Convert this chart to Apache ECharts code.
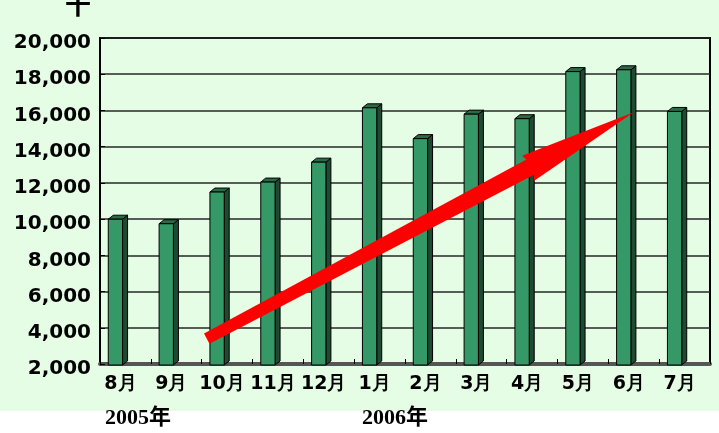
<!DOCTYPE html>
<html>
<head>
<meta charset="utf-8">
<script src="https://cdn.jsdelivr.net/npm/echarts@6/dist/echarts.min.js"></script>
<style>
  html, body { margin: 0; padding: 0; }
  body { width: 719px; height: 433px; overflow: hidden;
         background: linear-gradient(to bottom, #e5fde5 0px, #e5fde5 411px, #ffffff 411px, #ffffff 433px); }
  #chart { width: 719px; height: 433px; }
</style>
</head>
<body>
<div id="chart"></div>
<script>
// ---- data ----
const categories = ['8月', '9月', '10月', '11月', '12月', '1月', '2月', '3月', '4月', '5月', '6月', '7月'];
const values = [10050, 9800, 11550, 12100, 13200, 16200, 14500, 15850, 15600, 18200, 18300, 16000];
const yMin = 2000;
const yMax = 20000;
const yStep = 2000;
const yTickLabels = ['2,000', '4,000', '6,000', '8,000', '10,000', '12,000', '14,000', '16,000', '18,000', '20,000'];
const yearLabels = ['2005年', '2006年'];
const unitLabel = '千';
// trend arrow: [category position, value] for tail and tip
const arrowTail = [1.6, 3400];
const arrowTip = [10.0, 15900];

const chart = echarts.init(document.getElementById('chart'), null, { renderer: 'canvas' });

const FONT = 'DejaVu Sans';

function renderBar3D(params, api) {
  const idx = api.value(0);
  const v = api.value(1);
  const top = api.coord([idx, v]);
  const base = api.coord([idx, yMin]);
  const cx = top[0] - 10;
  const fw = 14.3;
  const L = cx - fw / 2, R = cx + fw / 2;
  const ty = top[1] + 1, by = base[1] + 1;
  const dx = 5, dy = -4;
  return {
    type: 'group',
    children: [
      { type: 'polygon', shape: { points: [[R, ty], [R + dx, ty + dy], [R + dx, by + dy], [R, by]] },
        style: { fill: '#1d4a30', stroke: '#000', lineWidth: 1 } },
      { type: 'polygon', shape: { points: [[L, ty], [L + dx, ty + dy], [R + dx, ty + dy], [R, ty]] },
        style: { fill: '#2a6b47', stroke: '#000', lineWidth: 1 } },
      { type: 'rect', shape: { x: L, y: ty, width: fw, height: by - ty },
        style: { fill: '#349966', stroke: '#000', lineWidth: 1 } }
    ]
  };
}

function renderArrow(params, api) {
  const p1 = api.coord([api.value(0), api.value(1)]);
  const p2 = api.coord([api.value(2), api.value(3)]);
  const ddx = p2[0] - p1[0], ddy = p2[1] - p1[1];
  const len = Math.sqrt(ddx * ddx + ddy * ddy);
  const u = [ddx / len, ddy / len];
  const n = [-u[1], u[0]];
  const w0 = 5.8, w1 = 8.5, wh = 14, headLen = 119;
  const a = len - headLen;
  const pt = (along, perp) => [p1[0] + u[0] * along + n[0] * perp, p1[1] + u[1] * along + n[1] * perp];
  return {
    type: 'polygon',
    shape: { points: [pt(0, -w0), pt(a + 2, -w1), pt(a, -wh), p2, pt(a - 1, wh), pt(a + 1, w1), pt(0, w0)] },
    style: { fill: '#ff0000' }
  };
}

const option = {
  animation: false,
  backgroundColor: 'transparent',
  grid: { left: 100, right: 9, top: 38, bottom: 69, show: true, borderColor: '#000', borderWidth: 2, backgroundColor: 'transparent', containLabel: false },
  xAxis: [
    {
      type: 'category',
      data: categories,
      boundaryGap: true,
      axisLine: { show: true, lineStyle: { color: '#555', width: 4 } },
      axisTick: { show: true, inside: true, length: 5, lineStyle: { color: '#000', width: 1 } },
      axisLabel: { interval: 0, color: '#000', fontSize: 19, fontWeight: 'bold', fontFamily: FONT, margin: 11, padding: [0, 10, 0, 0], hideOverlap: false },
      splitLine: { show: false }
    },
    {
      type: 'value', min: -0.5, max: categories.length - 0.5, show: false
    }
  ],
  yAxis: {
    type: 'value',
    min: yMin, max: yMax, interval: yStep,
    axisLine: { show: true, onZero: false, lineStyle: { color: '#000', width: 2 } },
    axisTick: { show: true, inside: true, length: 5, lineStyle: { color: '#000' } },
    axisLabel: {
      color: '#000', fontSize: 20, fontWeight: 'bold', fontFamily: FONT, margin: 9,
      verticalAlign: 'top', lineHeight: 10,
      formatter: (v) => yTickLabels[Math.round((v - yMin) / yStep)]
    },
    splitLine: { show: true, lineStyle: { color: '#262626', width: 1.5 } }
  },
  series: [
    {
      type: 'custom',
      xAxisIndex: 0,
      renderItem: renderBar3D,
      encode: { x: 0, y: 1 },
      data: values.map((v, i) => [i, v]),
      z: 2
    },
    {
      type: 'custom',
      xAxisIndex: 1,
      renderItem: renderArrow,
      encode: { x: [0, 2], y: [1, 3] },
      data: [[arrowTail[0], arrowTail[1], arrowTip[0], arrowTip[1]]],
      z: 5
    }
  ],
  graphic: [
    { type: 'text', left: 105, top: 407, style: { text: yearLabels[0], fill: '#000', font: 'bold 22px "Liberation Serif", "Noto Sans CJK JP", serif' } },
    { type: 'text', left: 362, top: 407, style: { text: yearLabels[1], fill: '#000', font: 'bold 22px "Liberation Serif", "Noto Sans CJK JP", serif' } },
    { type: 'text', x: 78, y: -9, style: { text: unitLabel, fill: '#000', align: 'center', verticalAlign: 'top', font: 'bold 26px "Noto Sans CJK JP", sans-serif' } }
  ]
};

chart.setOption(option);
</script>
</body>
</html>
